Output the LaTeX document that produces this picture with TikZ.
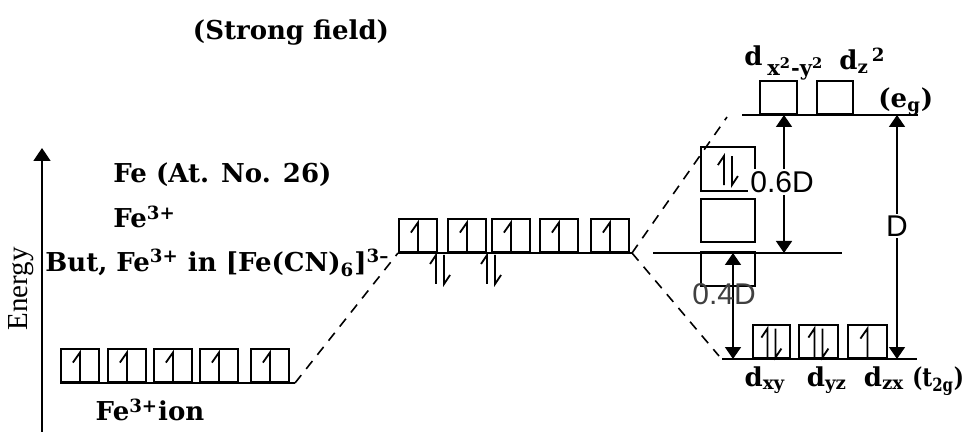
\documentclass[tikz,border=0pt]{standalone}
\usepackage{fontspec}
\setmainfont{DejaVu Serif}
\newfontfamily\sansf{Liberation Sans}
\newfontfamily\timesf{Liberation Serif}
\usetikzlibrary{arrows.meta}
\begin{document}
\begin{tikzpicture}[x=0.5pt,y=-0.5pt,
 orb/.style={draw,line width=0.9pt,minimum width=19pt,minimum height=16.5pt,inner sep=0pt,anchor=south west},
 lvl/.style={line width=0.9pt},
 el/.style={line width=0.9pt},
 lbl/.style={font=\bfseries\fontsize{13}{15}\selectfont, inner sep=0pt},
 dlbl/.style={font=\sansf\fontsize{15}{16}\selectfont, inner sep=1pt, fill=white},
 dim/.style={line width=0.8pt,{Triangle[width=8pt,length=6pt]}-{Triangle[width=8pt,length=6pt]}},
 dsh/.style={line width=0.8pt,dash pattern=on 5pt off 4pt},
 eup/.pic={\draw[el] (0,16) -- (0,-13) -- (-7,-3);},
 epair/.pic={\draw[el] (-4,16) -- (-4,-13) -- (-10,-4); \draw[el] (4,-13) -- (4,16) -- (10,7);}
]
\useasboundingbox (0,0) rectangle (973,432);

% axis
\coordinate (ax0) at (42,432);
\coordinate (ax1) at (42,148);
\draw[line width=0.8pt,-{Triangle[width=8.5pt,length=6.5pt]}] (ax0) -- (ax1);
\node[rotate=90,font=\timesf\fontsize{14.5}{15}\selectfont,inner sep=0pt] (energy) at (21,289) {Energy};

% titles
\node[lbl] (title) at (291,33) {(Strong field)};
\node[lbl,anchor=west] (fe) at (113,175) {Fe (At. No. 26)};
\node[lbl,anchor=west] (fe3) at (113,217) {Fe\textsuperscript{3+}};
\node[lbl,anchor=west] (but) at (45,263) {But, Fe\textsuperscript{3+} in [Fe(CN)\textsubscript{6}]\textsuperscript{3--}};

% Fe3+ ion row
\foreach \i/\x in {1/60,2/107,3/153,4/199,5/250}{
  \node[orb] (a\i) at (\x,383) {};
  \pic at (a\i.center) {eup};
}
\coordinate (aend) at (295,383);
\draw[lvl] (a1.south west) -- (aend);
\node[lbl] (ion) at (150,410) {Fe\textsuperscript{3+}ion};

% middle row
\foreach \i/\x in {1/398,2/447,3/491,4/539,5/590}{
  \node[orb] (m\i) at (\x,253) {};
  \pic at (m\i.center) {eup};
}
\coordinate (mend) at (632,253);
\draw[lvl] (m1.south west) -- (mend);
\coordinate (p1) at (440,268);
\coordinate (p2) at (491,268);
\pic at (p1) {epair};
\pic at (p2) {epair};

% dashed connectors
\draw[dsh] (aend) -- (m1.south west);
\coordinate (egl) at (742,115);
\coordinate (egr) at (918,115);
\coordinate (tl) at (722,359);
\coordinate (tr) at (917,359);
\coordinate (bl) at (653,253);
\coordinate (br) at (842,253);
\coordinate (du) at (727,117);
\coordinate (dd) at (719,356);
\draw[dsh] (mend) -- (du);
\draw[dsh] (mend) -- (dd);

% levels
\draw[lvl] (egl) -- (egr);
\draw[lvl] (bl) -- (br);
\draw[lvl] (tl) -- (tr);

% eg boxes
\node[orb,minimum width=18.5pt] (eg1) at (759,115) {};
\node[orb,minimum width=18pt] (eg2) at (816,115) {};
% t2g boxes
\node[orb,minimum width=18.5pt] (t1) at (752,359) {};
\node[orb,minimum width=19.5pt] (t2) at (798,359) {};
\node[orb,minimum width=19.5pt] (t3) at (847,359) {};
\pic at (t1.center) {epair};
\pic at (t2.center) {epair};
\pic at (t3.center) {eup};

% side boxes
\node[orb,minimum width=27pt,minimum height=22pt] (s1) at (700,192) {};
\pic at (s1.center) {epair};
\node[orb,minimum width=27pt,minimum height=21.5pt] (s2) at (700,243) {};
\node[orb,minimum width=27pt,minimum height=17pt] (s3) at (700,287) {};

% dimension arrows
\coordinate (a6t) at (784,115);
\coordinate (a6b) at (784,253);
\draw[dim] (a6t) -- (a6b);
\node[dlbl] (l6) at (782,182) {0.6D};
\coordinate (aDt) at (897,115);
\coordinate (aDb) at (897,359);
\draw[dim] (aDt) -- (aDb);
\node[dlbl] (lD) at (897,226) {D};
\coordinate (a4t) at (733,253);
\coordinate (a4b) at (733,359);
\draw[dim] (a4t) -- (a4b);
\node[dlbl,fill=none,text=black!75] (l4) at (724,294) {0.4D};

% orbital labels
\node[lbl,anchor=base west] (dx) at (744,66) {d};
\node[lbl,anchor=base west,font=\bfseries\fontsize{10.5}{12}\selectfont] (dxs) at (767,76) {x\textsuperscript{2}-y\textsuperscript{2}};
\node[lbl,anchor=base west] (dz) at (839,70) {d\textsubscript{z}\textsuperscript{\,2}};
\node[lbl,anchor=base west] (eg) at (878,108) {(e\textsubscript{g})};
\node[lbl,anchor=base] (dxy) at (765,386) {d\textsubscript{xy}};
\node[lbl,anchor=base] (dyz) at (827,386) {d\textsubscript{yz}};
\node[lbl,anchor=base] (dzx) at (884,386) {d\textsubscript{zx}};
\node[lbl,anchor=base west,xscale=0.82] (t2g) at (912,386) {(t\textsubscript{2g})};
\end{tikzpicture}
\end{document}
